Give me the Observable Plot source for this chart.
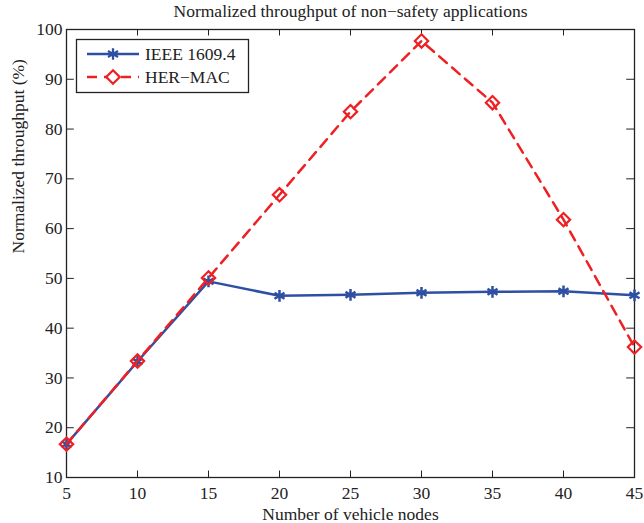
<!DOCTYPE html>
<html><head><meta charset="utf-8">
<script src="https://cdn.jsdelivr.net/npm/d3@7"></script>
<script src="https://cdn.jsdelivr.net/npm/@observablehq/plot@0.6"></script>
<style>
body{margin:0;background:#fff;}
#chart svg, #chart svg text{font-family:"Liberation Serif","Times New Roman",serif !important;}
</style>
</head><body><div id="chart"></div>
<script>
const nodes = [5, 10, 15, 20, 25, 30, 35, 40, 45];
const ieee = [16.7, 33.3, 49.4, 46.5, 46.7, 47.1, 47.3, 47.4, 46.6];
const hermac = [16.7, 33.4, 50.1, 66.8, 83.5, 97.7, 85.3, 61.8, 36.2];
const seriesNames = ["IEEE 1609.4", "HER\u2212MAC"];
const xTicks = [5, 10, 15, 20, 25, 30, 35, 40, 45];
const yTicks = [10, 20, 30, 40, 50, 60, 70, 80, 90, 100];

const FF = "'Liberation Serif', 'Times New Roman', serif";
const FS = 17.5;
const blue = "#2f4fa2", red = "#ee2024";
const A = nodes.map((n, i) => ({x: n, y: ieee[i]}));
const B = nodes.map((n, i) => ({x: n, y: hermac[i]}));
const innerX = xTicks.filter(t => t > 5 && t < 45);
const innerY = yTicks.filter(t => t > 10 && t < 100);

const W = 644, H = 523;
const plot = Plot.plot({
  width: W, height: H,
  marginLeft: 66, marginRight: 10, marginTop: 29, marginBottom: 46,
  style: {fontSize: FS + "px", fontFamily: FF, color: "#222", background: "#fff"},
  x: {domain: [5, 45], ticks: xTicks, label: null},
  y: {domain: [10, 100], ticks: yTicks, label: null},
  marks: [
    Plot.ruleX(innerX, {x: d => d, y1: 10, y2: 11.3, stroke: "#222"}),
    Plot.ruleX(innerX, {x: d => d, y1: 98.7, y2: 100, stroke: "#222"}),
    Plot.ruleY(innerY, {y: d => d, x1: 5, x2: 5.55, stroke: "#222"}),
    Plot.ruleY(innerY, {y: d => d, x1: 44.45, x2: 45, stroke: "#222"}),
    Plot.frame({stroke: "#222", strokeWidth: 1.3}),
    Plot.axisX({ticks: xTicks, tickSize: 0, tickPadding: 9, fontSize: FS, fontFamily: FF}),
    Plot.axisY({ticks: yTicks, tickSize: 0, tickPadding: 4, fontSize: FS, fontFamily: FF}),
    Plot.line(A, {x: "x", y: "y", stroke: blue, strokeWidth: 2.5}),
    Plot.dot(A, {x: "x", y: "y", symbol: "asterisk", r: 5.5, stroke: blue, strokeWidth: 2.5}),
    Plot.line(B, {x: "x", y: "y", stroke: red, strokeWidth: 2.5, strokeDasharray: "10,7"}),
    Plot.dot(B, {x: "x", y: "y", symbol: "diamond2", r: 6, stroke: red, strokeWidth: 2.2, fill: "none"}),
    Plot.text(["Normalized throughput of non\u2212safety applications"], {frameAnchor: "top", dy: -25, fontSize: FS, fill: "#222", fontFamily: FF}),
    Plot.text(["Number of vehicle nodes"], {frameAnchor: "bottom", dy: 42, fontSize: FS, fill: "#222", fontFamily: FF}),
    Plot.text(["Normalized throughput (%)"], {frameAnchor: "left", dx: -48, rotate: -90, fontSize: FS, fill: "#222", fontFamily: FF})
  ]
});
document.getElementById("chart").appendChild(plot);

// legend
const svg = d3.select(plot);
const g = svg.append("g").attr("font-family", FF).attr("font-size", FS).attr("text-anchor", "start");
g.append("rect").attr("x", 76.5).attr("y", 39.5).attr("width", 172).attr("height", 53)
  .attr("fill", "#fff").attr("stroke", "#222").attr("stroke-width", 1.3);
const rows = [
  {name: seriesNames[0], color: blue, dash: null, sym: d3.symbolAsterisk, y: 54},
  {name: seriesNames[1], color: red, dash: "10,7", sym: d3.symbolDiamond2, y: 77}
];
rows.forEach(r => {
  g.append("line").attr("x1", 87).attr("x2", 139).attr("y1", r.y).attr("y2", r.y)
    .attr("stroke", r.color).attr("stroke-width", 2.5).attr("stroke-dasharray", r.dash);
  g.append("path").attr("transform", `translate(113,${r.y})`)
    .attr("d", d3.symbol(r.sym, r.sym === d3.symbolAsterisk ? 95 : 115)())
    .attr("fill", r.sym === d3.symbolAsterisk ? "none" : "#fff").attr("stroke", r.color).attr("stroke-width", 2.3);
  g.append("text").attr("x", 145).attr("y", r.y).attr("dy", "0.35em").attr("text-anchor", "start").attr("fill", "#222").text(r.name);
});
</script>
</body></html>
